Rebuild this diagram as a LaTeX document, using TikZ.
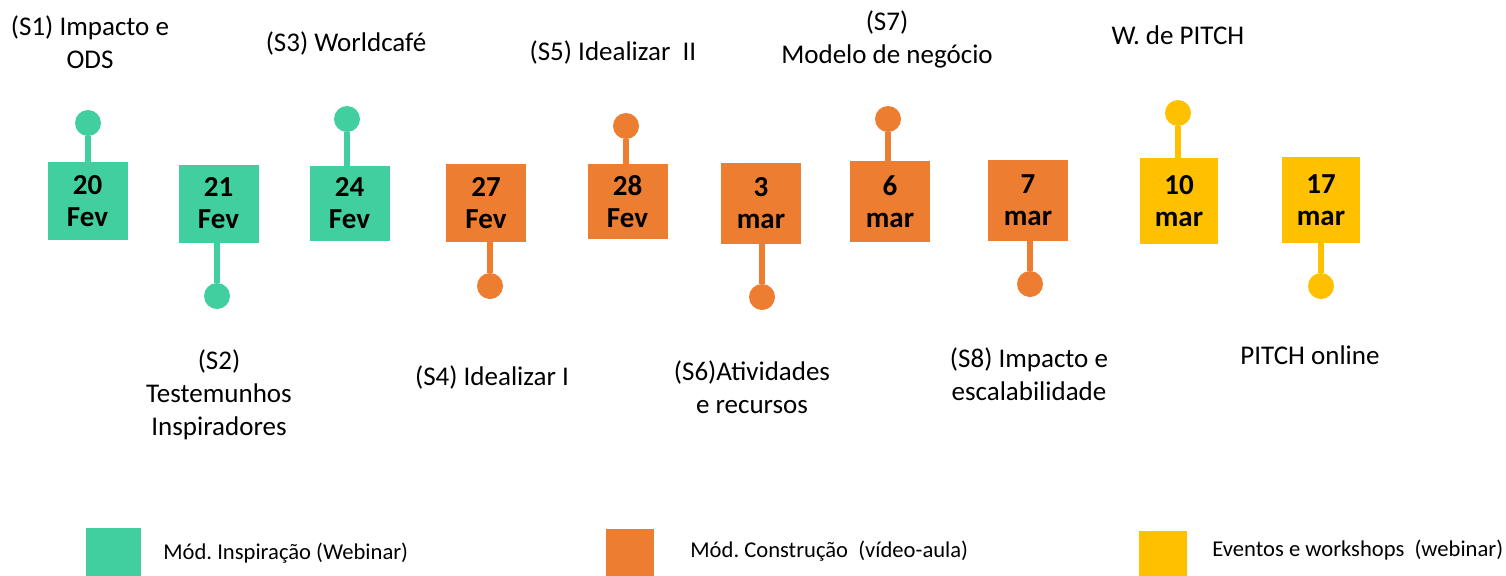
\documentclass[tikz,border=0pt]{standalone}
\usepackage{fontspec}
\setmainfont{Carlito}
\usepackage{tikz}
\usetikzlibrary{shapes,arrows,positioning}

\definecolor{inspgreen}{HTML}{42CFA0}
\definecolor{constorange}{HTML}{ED7D31}
\definecolor{eventyellow}{HTML}{FFC000}

\tikzset{
	datebox/.style={shape=rectangle, fill=#1, inner sep=0pt, minimum width=40pt, minimum height=39pt, align=center, font=\fontsize{14.5}{16}\selectfont\bfseries},
	pin/.style={shape=circle, fill=#1, inner sep=0pt, minimum size=13pt},
	stem/.style={draw=#1, line width=3pt},
	session/.style={align=center, font=\fontsize{13.5}{16.5}\selectfont},
	legendkey/.style={shape=rectangle, fill=#1, inner sep=0pt, anchor=north west},
	legendtext/.style={anchor=west, inner sep=0pt, font=\fontsize{11.3}{13}\selectfont}
}

\begin{document}
\frenchspacing
\begin{tikzpicture}[x=0.5pt,y=-0.5pt]
	\useasboundingbox (0,0) rectangle (1506,575);

	\node[datebox=inspgreen] (d1) at (87.5,201) {20\\Fev};
	\node[datebox=inspgreen] (d2) at (218.5,203.5) {21\\Fev};
	\node[datebox=inspgreen, minimum height=37.5pt] (d3) at (349.5,203.5) {24\\Fev};
	\node[datebox=constorange] (d4) at (486,203) {27\\Fev};
	\node[datebox=constorange, minimum height=37.5pt] (d5) at (627.5,201.5) {28\\Fev};
	\node[datebox=constorange, minimum height=40.5pt] (d6) at (761,203.5) {3\\mar};
	\node[datebox=constorange, minimum height=40.5pt] (d7) at (890,201.5) {6\\mar};
	\node[datebox=constorange, minimum height=40.5pt] (d8) at (1028,200.5) {7\\mar};
	\node[datebox=eventyellow, minimum width=39pt, minimum height=43pt] (d9) at (1179,201) {10\\mar};
	\node[datebox=eventyellow, minimum width=39pt, minimum height=43pt] (d10) at (1321,200) {17\\mar};

	\node[pin=inspgreen] (c1) at (88,123) {};
	\node[pin=inspgreen] (c2) at (217,296) {};
	\node[pin=inspgreen] (c3) at (347,119) {};
	\node[pin=constorange] (c4) at (490,286) {};
	\node[pin=constorange] (c5) at (626,126) {};
	\node[pin=constorange] (c6) at (762,297) {};
	\node[pin=constorange] (c7) at (888,119) {};
	\node[pin=constorange] (c8) at (1030,284) {};
	\node[pin=eventyellow] (c9) at (1178,113) {};
	\node[pin=eventyellow] (c10) at (1321,286) {};

	\path [stem=inspgreen]
	(c1) edge (c1 |- d1.north)
	(c2) edge (c2 |- d2.south)
	(c3) edge (c3 |- d3.north);
	\path [stem=constorange]
	(c4) edge (c4 |- d4.south)
	(c5) edge (c5 |- d5.north)
	(c6) edge (c6 |- d6.south)
	(c7) edge (c7 |- d7.north)
	(c8) edge (c8 |- d8.south);
	\path [stem=eventyellow]
	(c9) edge (c9 |- d9.north)
	(c10) edge (c10 |- d10.south);

	\node[session] (l1) at (90,42) {(S1) Impacto e\\ODS};
	\node[session] (l3) at (346,43) {(S3) Worldcafé};
	\node[session] (l5) at (613,52) {(S5) Idealizar~~II};
	\node[session] (l7) at (887,39) {(S7)\\Modelo de negócio};
	\node[session] (l9) at (1178,35) {W. de PITCH};
	\node[session] (l2) at (219,395) {(S2)\\Testemunhos\\Inspiradores};
	\node[session] (l4) at (492,377) {(S4) Idealizar I};
	\node[session] (l6) at (752,387) {(S6)Atividades\\e recursos};
	\node[session] (l8) at (1029,374) {(S8) Impacto e\\escalabilidade};
	\node[session] (l10) at (1310,355) {PITCH online};

	\node[legendkey=inspgreen, minimum width=27.5pt, minimum height=26pt] (k1) at (86,528) {};
	\node[legendkey=constorange, minimum width=24pt, minimum height=26pt] (k2) at (606,529) {};
	\node[legendkey=eventyellow, minimum width=24pt, minimum height=26pt] (k3) at (1139,531) {};
	\node[legendtext] (t1) at (163,553) {Mód. Inspiração (Webinar)};
	\node[legendtext] (t2) at (690,551) {Mód. Construção~~(vídeo-aula)};
	\node[legendtext] (t3) at (1212,550) {Eventos e workshops~~(webinar)};
\end{tikzpicture}
\end{document}
